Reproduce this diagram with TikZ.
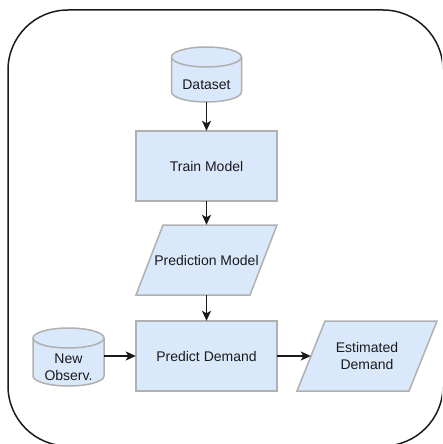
\documentclass[tikz,border=0pt]{standalone}
\usepackage{fontspec}
\setmainfont{Liberation Sans}
\usetikzlibrary{arrows.meta,backgrounds}
\definecolor{boxfill}{HTML}{DAE8FC}
\definecolor{boxline}{HTML}{B0B0B0}
\definecolor{ink}{HTML}{1A1A1A}
\begin{document}
\begin{tikzpicture}[x=1pt,y=-1pt,
  font=\fontsize{14}{17}\selectfont,
  shapefill/.style={fill=boxfill,draw=boxline,line width=1.5pt},
  txt/.style={rectangle,inner sep=0pt,align=center,text=ink},
  arr/.style={draw=ink,line width=1.5pt,-{Stealth[length=10pt,width=9pt,inset=2.5pt]}},
  frame/.style={draw=ink,line width=1.5pt,rounded corners=60pt}]
\useasboundingbox (0,0) rectangle (442,444);
\clip (0,0) rectangle (442,444);

% outer container
\draw[frame] (8,10) rectangle (443,446);

% process steps and data labels
\node[txt,minimum width=141pt,minimum height=70pt] (train) at (206.5,166) {Train Model};
\node[txt,minimum width=141pt,minimum height=70pt] (pd) at (206.5,356) {Predict Demand};
\node[txt,minimum width=114pt,minimum height=70pt] (pm) at (206.5,260) {Prediction Model};
\node[txt,minimum width=112pt,minimum height=70pt] (est) at (367,356) {Estimated\\Demand};
\node[txt,minimum width=70pt,minimum height=35pt] (data) at (206.5,84.5) {Dataset};
\node[txt,minimum width=71pt,minimum height=38pt] (obs) at (68.5,367) {New\\Observ.};

\begin{scope}[on background layer]
  % process boxes
  \draw[shapefill] (136,131) rectangle (277,201);
  \draw[shapefill] (136,321) rectangle (277,391);
  % data stores (cylinders)
  \draw[shapefill] (171.5,57) -- (171.5,92)
    arc[start angle=180,end angle=0,x radius=35,y radius=10] -- (241.5,57)
    arc[start angle=360,end angle=180,x radius=35,y radius=10] -- cycle;
  \draw[draw=boxline,line width=1.5pt] (171.5,57)
    arc[start angle=180,end angle=0,x radius=35,y radius=10];
  \draw[shapefill] (33,338) -- (33,376)
    arc[start angle=180,end angle=0,x radius=35.5,y radius=10] -- (104,338)
    arc[start angle=360,end angle=180,x radius=35.5,y radius=10] -- cycle;
  \draw[draw=boxline,line width=1.5pt] (33,338)
    arc[start angle=180,end angle=0,x radius=35.5,y radius=10];
  % input/output (parallelograms)
  \draw[shapefill] (163,225) -- (277,225) -- (250,295) -- (136,295) -- cycle;
  \draw[shapefill] (325,321) -- (437,321) -- (409,391) -- (297,391) -- cycle;
\end{scope}

% flow
\draw[arr] (data) -- (train);
\draw[arr] (train) -- (pm);
\draw[arr] (pm) -- (pd);
\draw[arr] (obs.east |- pd.west) -- (pd.west);
\draw[arr] (pd) -- (est);
\end{tikzpicture}
\end{document}
